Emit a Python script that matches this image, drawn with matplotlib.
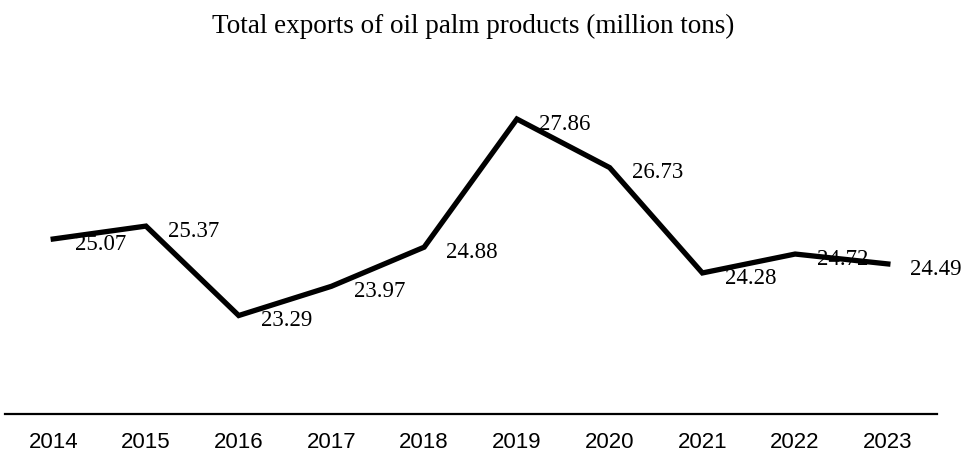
import matplotlib
matplotlib.use("Agg")
import matplotlib.pyplot as plt
import numpy as np

years = ["2014", "2015", "2016", "2017", "2018", "2019", "2020", "2021", "2022", "2023"]
exports = [25.07, 25.37, 23.29, 23.97, 24.88, 27.86, 26.73, 24.28, 24.72, 24.49]
title = "Total exports of oil palm products (million tons)"

serif = ["Liberation Serif", "DejaVu Serif"]
sans = ["Liberation Sans", "DejaVu Sans"]

fig = plt.figure(figsize=(9.7, 4.56), dpi=100)
ax = fig.add_axes([5 / 970, 41 / 456, 932 / 970, 344 / 456])

x = np.arange(len(years))
ax.plot(x, exports, color="black", lw=3.8, solid_joinstyle="miter")

for xi, v in zip(x, exports):
    ax.annotate(f"{v:.2f}", (xi, v), xytext=(16, -3), textcoords="offset points",
                ha="left", va="center", fontsize=16.5, family=serif)

ax.set_xlim(-0.52, 9.53)
ax.set_ylim(21.0, 29.0)
ax.set_xticks(x)
ax.set_xticklabels(years, family=sans, fontsize=16)
ax.set_yticks([])
ax.tick_params(axis="x", length=0, pad=12)
for side in ["top", "right", "left"]:
    ax.spines[side].set_visible(False)
ax.spines["bottom"].set_linewidth(1.6)

fig.text(0.488, 1 - 26 / 456, title, ha="center", va="center", fontsize=19.5, family=serif)

fig.savefig("out.png", dpi=100)
